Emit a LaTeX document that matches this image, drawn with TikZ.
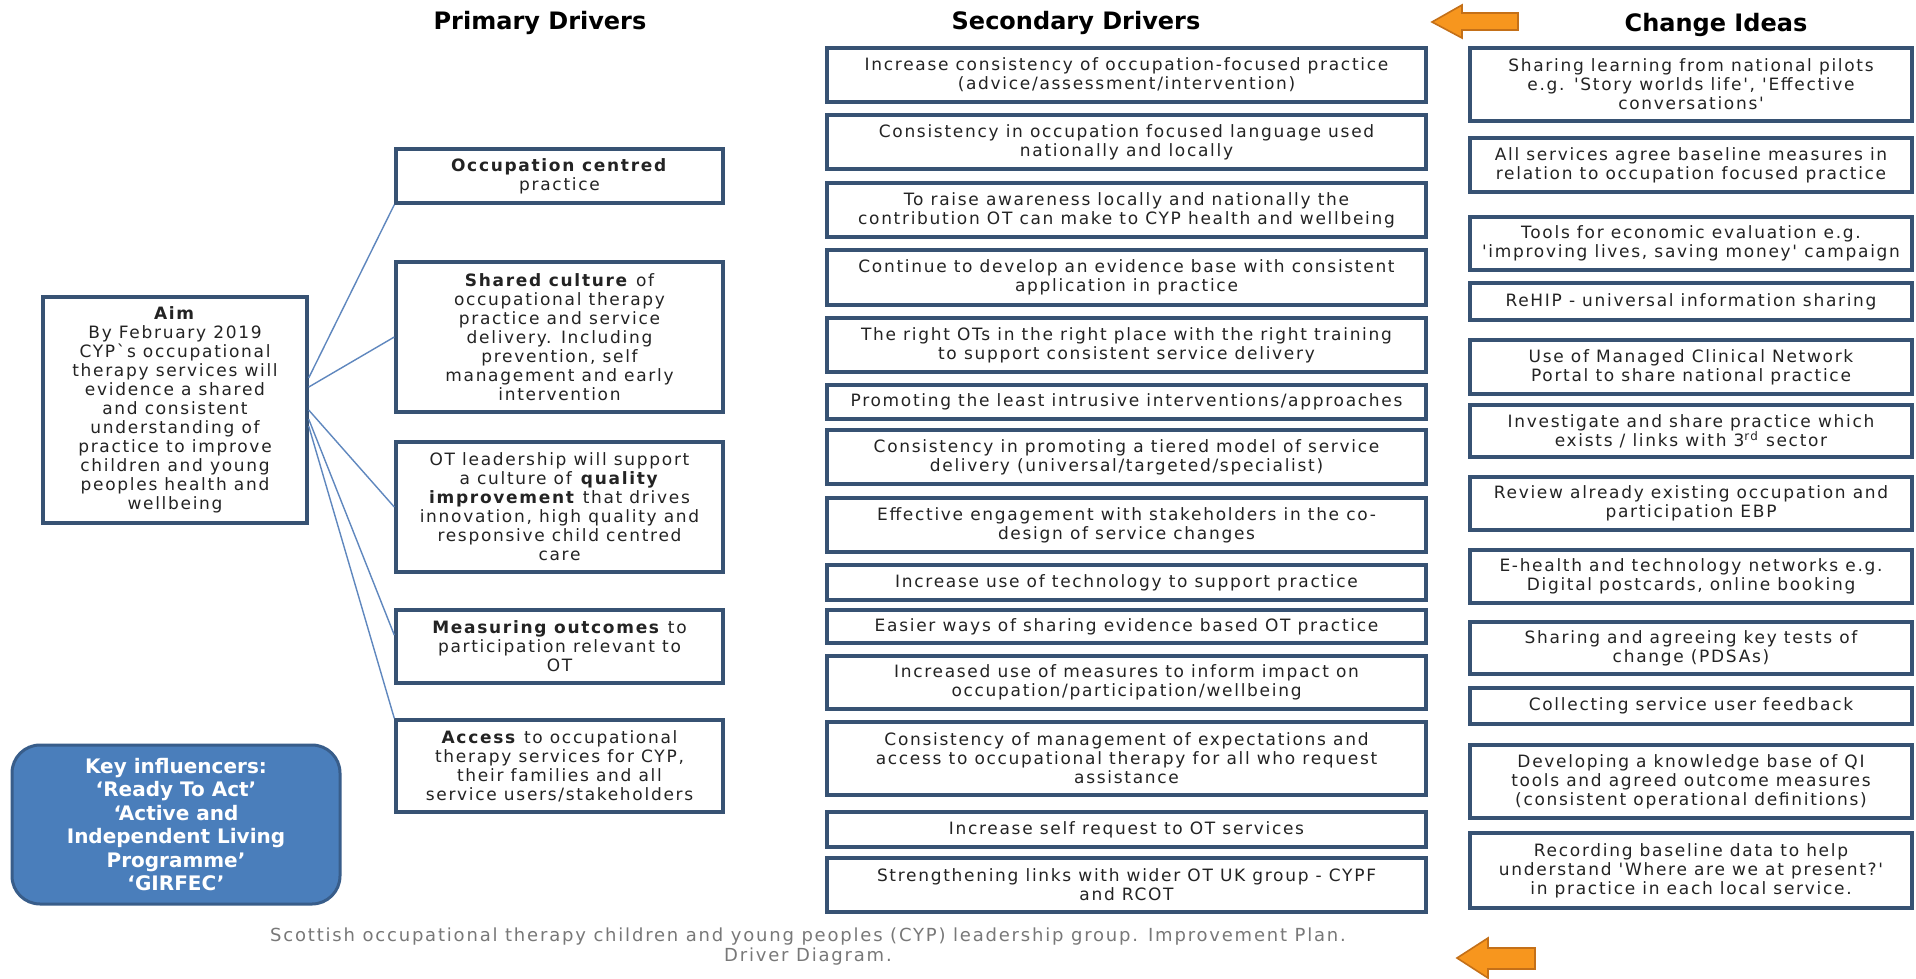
\documentclass[tikz,border=0pt]{standalone}
\usepackage{fontspec}
\newfontfamily\bodyfont{DejaVu Sans}[LetterSpace=10]
\newfontfamily\headfont{DejaVu Sans}
\usetikzlibrary{calc}
\definecolor{boxline}{RGB}{55,82,115}
\definecolor{txt}{RGB}{35,35,35}
\definecolor{connc}{RGB}{95,135,190}
\definecolor{keyfill}{RGB}{74,126,187}
\definecolor{keyline}{RGB}{56,93,138}
\definecolor{orfill}{RGB}{247,150,30}
\definecolor{orline}{RGB}{196,112,24}
\definecolor{footc}{RGB}{120,120,120}
% box from corner (x1,y1) to (x2,y2) in pixel units
\newcommand\drbox[7]{%
  \pgfmathsetmacro\drbX{(#2+#4)/2}%
  \pgfmathsetmacro\drbY{(#3+#5)/2}%
  \pgfmathsetmacro\drbW{(#4-#2)/2}%
  \pgfmathsetmacro\drbH{(#5-#3)/2}%
  \node[#1, minimum width=\drbW pt, minimum height=\drbH pt, anchor=center] (#6) at (\drbX,\drbY) {#7};%
}
\begin{document}
\begin{tikzpicture}[x=0.5pt,y=-0.5pt,
 drvbox/.style={draw=boxline, line width=1.7pt, fill=white, inner sep=0pt, align=center, text=txt, font=\bodyfont\fontsize{8.5}{9.5}\selectfont},
 keybox/.style={draw=keyline, line width=1.5pt, fill=keyfill, rounded corners=14pt, inner sep=0pt, align=center, text=white, font=\headfont\bfseries\fontsize{10}{11.75}\selectfont},
 headtitle/.style={font=\headfont\bfseries\fontsize{12}{14}\selectfont, text=black, inner sep=0pt},
 connline/.style={draw=connc, line width=0.7pt},
 orangearrow/.style={fill=orfill, draw=orline, line width=0.8pt, line join=miter},
 footnode/.style={font=\bodyfont\fontsize{9}{10}\selectfont, text=footc, align=center, inner sep=0pt}
]
\fill[white] (0,0) rectangle (1916,979);
\useasboundingbox (0,0) rectangle (1916,979);

% titles
\node[headtitle] (tp) at (540,23) {Primary Drivers};
\node[headtitle] (ts) at (1076,23) {Secondary Drivers};
\node[headtitle] (tc) at (1716,25) {Change Ideas};

% orange arrows
\draw[orangearrow] (1432,22) -- (1462,5) -- (1462,13) -- (1518,13) -- (1518,30) -- (1462,30) -- (1462,38) -- cycle;
\draw[orangearrow] (1457,958) -- (1488,938) -- (1488,948) -- (1535,948) -- (1535,969) -- (1488,969) -- (1488,978) -- cycle;

% aim
\drbox{drvbox}{43}{297}{307}{523}{aim}{\textbf{Aim}\\By February 2019\\CYP`s occupational\\therapy services will\\evidence a shared\\and consistent\\understanding of\\practice to improve\\children and young\\peoples health and\\wellbeing}

% key influencers
\drbox{keybox}{12}{745}{340}{904}{key}{Key influencers:\\‘Ready To Act’\\‘Active and\\Independent Living\\Programme’\\‘GIRFEC’}

% primary drivers
\drbox{drvbox}{396}{149}{723}{203}{p1}{\textbf{Occupation centred}\\practice}
\drbox{drvbox}{396}{262}{723}{412}{p2}{\textbf{Shared culture} of\\occupational therapy\\practice and service\\delivery. Including\\prevention, self\\management and early\\intervention}
\drbox{drvbox}{396}{442}{723}{572}{p3}{OT leadership will support\\a culture of \textbf{quality}\\\textbf{improvement} that drives\\innovation, high quality and\\responsive child centred\\care}
\drbox{drvbox}{396}{610}{723}{683}{p4}{\textbf{Measuring outcomes} to\\participation relevant to\\OT}
\drbox{drvbox}{396}{720}{723}{812}{p5}{\textbf{Access} to occupational\\therapy services for CYP,\\their families and all\\service users/stakeholders}

% connectors
\draw[connline] ($(aim.north east)!0.36!(aim.south east)$) -- (p1.south west);
\draw[connline] ($(aim.north east)!0.40!(aim.south east)$) -- (p2.west);
\draw[connline] ($(aim.north east)!0.50!(aim.south east)$) -- (p3.west);
\draw[connline] ($(aim.north east)!0.54!(aim.south east)$) -- ($(p4.north west)!0.35!(p4.south west)$);
\draw[connline] ($(aim.north east)!0.57!(aim.south east)$) -- (p5.north west);

% secondary drivers
\drbox{drvbox}{827}{48}{1426}{102}{s1}{Increase consistency of occupation-focused practice\\(advice/assessment/intervention)}
\drbox{drvbox}{827}{115}{1426}{169}{s2}{Consistency in occupation focused language used\\nationally and locally}
\drbox{drvbox}{827}{183}{1426}{237}{s3}{To raise awareness locally and nationally the\\contribution OT can make to CYP health and wellbeing}
\drbox{drvbox}{827}{250}{1426}{305}{s4}{Continue to develop an evidence base with consistent\\application in practice}
\drbox{drvbox}{827}{318}{1426}{372}{s5}{The right OTs in the right place with the right training\\to support consistent service delivery}
\drbox{drvbox}{827}{385}{1426}{419}{s6}{Promoting the least intrusive interventions/approaches}
\drbox{drvbox}{827}{430}{1426}{484}{s7}{Consistency in promoting a tiered model of service\\delivery (universal/targeted/specialist)}
\drbox{drvbox}{827}{498}{1426}{552}{s8}{Effective engagement with stakeholders in the co-\\design of service changes}
\drbox{drvbox}{827}{565}{1426}{600}{s9}{Increase use of technology to support practice}
\drbox{drvbox}{827}{610}{1426}{643}{s10}{Easier ways of sharing evidence based OT practice}
\drbox{drvbox}{827}{656}{1426}{709}{s11}{Increased use of measures to inform impact on\\occupation/participation/wellbeing}
\drbox{drvbox}{827}{722}{1426}{795}{s12}{Consistency of management of expectations and\\access to occupational therapy for all who request\\assistance}
\drbox{drvbox}{827}{812}{1426}{847}{s13}{Increase self request to OT services}
\drbox{drvbox}{827}{858}{1426}{912}{s14}{Strengthening links with wider OT UK group - CYPF\\and RCOT}

% change ideas
\drbox{drvbox}{1470}{48}{1912}{121}{c1}{Sharing learning from national pilots\\e.g. 'Story worlds life', 'Effective\\conversations'}
\drbox{drvbox}{1470}{138}{1912}{192}{c2}{All services agree baseline measures in\\relation to occupation focused practice}
\drbox{drvbox}{1470}{217}{1912}{270}{c3}{Tools for economic evaluation e.g.\\'improving lives, saving money' campaign}
\drbox{drvbox}{1470}{283}{1912}{320}{c4}{ReHIP - universal information sharing}
\drbox{drvbox}{1470}{340}{1912}{394}{c5}{Use of Managed Clinical Network\\Portal to share national practice}
\drbox{drvbox}{1470}{405}{1912}{457}{c6}{Investigate and share practice which\\exists / links with 3\textsuperscript{rd} sector}
\drbox{drvbox}{1470}{477}{1912}{530}{c7}{Review already existing occupation and\\participation EBP}
\drbox{drvbox}{1470}{550}{1912}{603}{c8}{E-health and technology networks e.g.\\Digital postcards, online booking}
\drbox{drvbox}{1470}{622}{1912}{674}{c9}{Sharing and agreeing key tests of\\change (PDSAs)}
\drbox{drvbox}{1470}{688}{1912}{724}{c10}{Collecting service user feedback}
\drbox{drvbox}{1470}{745}{1912}{818}{c11}{Developing a knowledge base of QI\\tools and agreed outcome measures\\(consistent operational definitions)}
\drbox{drvbox}{1470}{833}{1912}{908}{c12}{Recording baseline data to help\\understand 'Where are we at present?'\\in practice in each local service.}

% footer
\node[footnode] (foot) at (808,947) {Scottish occupational therapy children and young peoples (CYP) leadership group. Improvement Plan.\\Driver Diagram.};
\end{tikzpicture}
\end{document}
